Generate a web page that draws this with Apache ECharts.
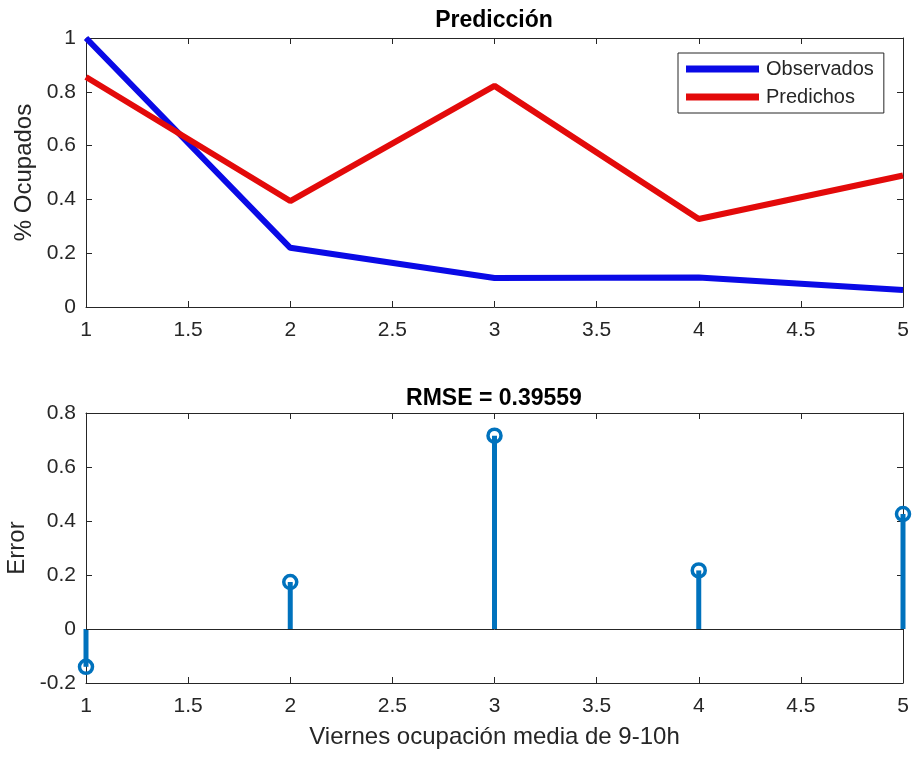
<!DOCTYPE html>
<html>
<head>
<meta charset="utf-8">
<script src="https://cdn.jsdelivr.net/npm/echarts@6/dist/echarts.min.js"></script>
<style>html,body{margin:0;padding:0;background:#fff;}#c{width:915px;height:757px;}</style>
</head>
<body>
<div id="c"></div>
<script>
const xValues = [1, 2, 3, 4, 5];
const observados = [1.0, 0.22, 0.108, 0.11, 0.063];
const predichos = [0.855, 0.394, 0.822, 0.327, 0.489];
const errores = [-0.14, 0.174, 0.716, 0.217, 0.426];
const titleTop = 'Predicción';
const titleBottom = 'RMSE = 0.39559';
const yNameTop = '% Ocupados';
const yNameBottom = 'Error';
const xNameBottom = 'Viernes ocupación media de 9-10h';

const FONT = '"Liberation Sans", Arial, sans-serif';
const AX = '#262626';
const LBL = 21;
const NAME = 24;
const chart = echarts.init(document.getElementById('c'));

function xAxisBase(grid, show, pos) {
  return {
    type: 'value', gridIndex: grid, min: 1, max: 5, interval: 0.5, position: pos,
    axisLine: {show: true, onZero: false, lineStyle: {color: AX, width: 1}},
    axisTick: {show: true, inside: true, length: 6, lineStyle: {color: AX}},
    axisLabel: {show: show, color: AX, fontSize: LBL, fontFamily: FONT, margin: 13},
    splitLine: {show: false}
  };
}
function yAxisBase(grid, min, max, show, pos) {
  return {
    type: 'value', gridIndex: grid, min: min, max: max, interval: 0.2, position: pos,
    axisLine: {show: true, onZero: false, lineStyle: {color: AX, width: 1}},
    axisTick: {show: true, inside: true, length: 6, lineStyle: {color: AX}},
    axisLabel: {show: show, color: AX, fontSize: LBL, fontFamily: FONT, margin: 10},
    splitLine: {show: false}
  };
}

const xa0 = xAxisBase(0, true, 'bottom');
const xa1 = xAxisBase(0, false, 'top');
const xa2 = Object.assign(xAxisBase(1, true, 'bottom'), {
  name: xNameBottom, nameLocation: 'middle', nameGap: 42,
  nameTextStyle: {color: AX, fontSize: NAME, fontFamily: FONT}
});
const xa3 = xAxisBase(1, false, 'top');
const ya0 = Object.assign(yAxisBase(0, 0, 1, true, 'left'), {
  name: yNameTop, nameLocation: 'middle', nameGap: 48, nameRotate: 90,
  nameTextStyle: {color: AX, fontSize: NAME, fontFamily: FONT}
});
const ya1 = yAxisBase(0, 0, 1, false, 'right');
const ya2 = Object.assign(yAxisBase(1, -0.2, 0.8, true, 'left'), {
  name: yNameBottom, nameLocation: 'middle', nameGap: 57, nameRotate: 90,
  nameTextStyle: {color: AX, fontSize: NAME, fontFamily: FONT}
});
const ya3 = yAxisBase(1, -0.2, 0.8, false, 'right');

const option = {
  backgroundColor: '#fff',
  animation: false,
  textStyle: {fontFamily: FONT},
  title: [
    {text: titleTop, left: 494, top: 9, textAlign: 'center', padding: 0,
     textStyle: {fontSize: 23, fontWeight: 'bold', color: '#000', fontFamily: FONT}},
    {text: titleBottom, left: 494, top: 387, textAlign: 'center', padding: 0,
     textStyle: {fontSize: 23, fontWeight: 'bold', color: '#000', fontFamily: FONT}}
  ],
  grid: [
    {left: 86, right: 12, top: 38, height: 269, outerBoundsMode: 'none', containLabel: false},
    {left: 86, right: 12, top: 413, height: 270, outerBoundsMode: 'none', containLabel: false}
  ],
  legend: {
    data: ['Observados', 'Predichos'],
    orient: 'vertical', left: 678, top: 53,
    icon: 'rect', itemWidth: 73, itemHeight: 7, itemGap: 8,
    padding: [6, 10, 6, 8],
    borderColor: AX, borderWidth: 1, backgroundColor: '#fff', borderRadius: 0,
    textStyle: {fontSize: 20, color: AX, fontFamily: FONT, padding: [0, 0, 0, 2]}
  },
  xAxis: [xa0, xa1, xa2, xa3],
  yAxis: [ya0, ya1, ya2, ya3],
  series: [
    {
      name: 'Observados', type: 'line', xAxisIndex: 0, yAxisIndex: 0,
      data: xValues.map((x, i) => [x, observados[i]]),
      symbol: 'none', clip: false,
      lineStyle: {color: '#0a0ae6', width: 6}, itemStyle: {color: '#0a0ae6'}
    },
    {
      name: 'Predichos', type: 'line', xAxisIndex: 0, yAxisIndex: 0,
      data: xValues.map((x, i) => [x, predichos[i]]),
      symbol: 'none', clip: false,
      lineStyle: {color: '#e30a0a', width: 6}, itemStyle: {color: '#e30a0a'}
    },
    {
      type: 'line', xAxisIndex: 2, yAxisIndex: 2, data: [], silent: true,
      markLine: {
        symbol: 'none', silent: true, label: {show: false},
        lineStyle: {color: AX, width: 1, type: 'solid'},
        data: [{yAxis: 0}]
      }
    },
    {
      type: 'custom', xAxisIndex: 2, yAxisIndex: 2, clip: false,
      data: xValues.map((x, i) => [x, errores[i]]),
      renderItem: function (params, api) {
        const p0 = api.coord([api.value(0), 0]);
        const p1 = api.coord([api.value(0), api.value(1)]);
        return {type: 'line', shape: {x1: p0[0], y1: p0[1], x2: p1[0], y2: p1[1]},
                style: {stroke: '#0072BD', lineWidth: 5}};
      }
    },
    {
      type: 'scatter', xAxisIndex: 2, yAxisIndex: 2, clip: false,
      data: xValues.map((x, i) => [x, errores[i]]),
      symbol: 'circle', symbolSize: 13,
      itemStyle: {color: 'rgba(255,255,255,0)', borderColor: '#0072BD', borderWidth: 3.5, opacity: 1}
    }
  ]
};
chart.setOption(option);
</script>
</body>
</html>
